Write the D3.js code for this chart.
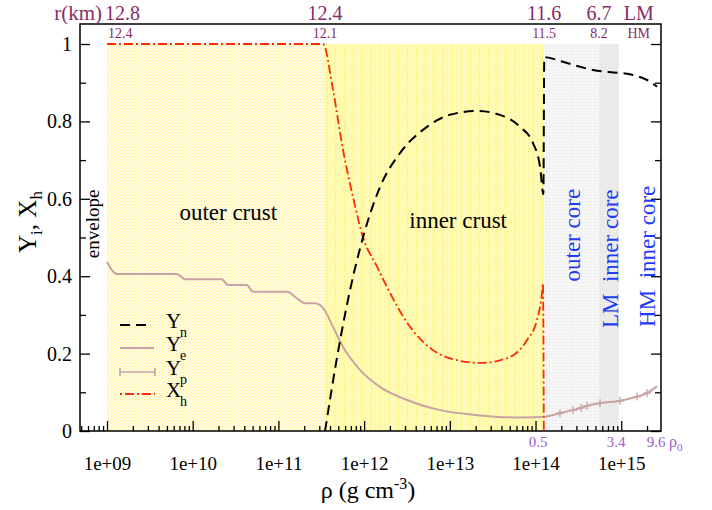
<!DOCTYPE html>
<html><head><meta charset="utf-8">
<script src="https://cdn.jsdelivr.net/npm/d3@7"></script>
<style>
body{margin:0;background:#fff}
svg{display:block}
svg text{font-family:"Liberation Serif","Times New Roman","DejaVu Serif",serif !important}
</style>
</head><body>
<svg id="c" width="712" height="510" font-family="Liberation Serif, serif"></svg>
<script>
// ---------------- data ----------------
// neutron fraction Y_n
const ynRho = [3.50e11,4.83e11,6.85e11,9.70e11,1.53e12,2.62e12,5.42e12,1.00e13,2.08e13,3.85e13,6.59e13,9.35e13,1.13e14,1.235e14,1.265e14,2.09e14,3.30e14,5.22e14,8.94e14,1.37e15,2.00e15,2.62e15];
const ynVal = [0,0.19,0.364,0.50,0.63,0.718,0.786,0.817,0.827,0.817,0.786,0.744,0.682,0.612,0.966,0.954,0.941,0.931,0.926,0.920,0.907,0.890];
// electron fraction Y_e (crust)
const yeRho = [1.00e9,1.30e9,6.50e9,8.13e9,2.18e10,2.58e10,4.27e10,5.05e10,1.28e11,1.56e11,2.04e11,2.67e11,3.31e11,4.34e11,5.68e11,8.95e11,1.53e12,3.17e12,7.69e12,2.08e13,6.08e13,1.22e14];
const yeVal = [0.437,0.406,0.406,0.392,0.392,0.377,0.377,0.360,0.360,0.347,0.330,0.330,0.318,0.269,0.217,0.158,0.114,0.080,0.054,0.041,0.035,0.036];
// proton fraction Y_p (core)
const ypRho = [1.27e14,1.93e14,2.74e14,3.40e14,3.99e14,5.66e14,9.69e14,1.53e15,2.00e15,2.62e15];
const ypVal = [0.036,0.046,0.054,0.060,0.065,0.072,0.078,0.089,0.098,0.116];
// heavy-cluster fraction X_h
const xhRho = [1.00e9,3.31e11,4.34e11,5.68e11,7.41e11,9.70e11,1.42e12,2.00e12,3.44e12,6.37e12,1.21e13,2.25e13,4.65e13,7.96e13,1.04e14,1.19e14,1.22e14,1.245e14,1.25e14];
const xhVal = [1,1,0.881,0.726,0.605,0.501,0.424,0.357,0.269,0.209,0.183,0.176,0.188,0.235,0.287,0.357,0.382,0.10,0];

// regions (density boundaries)
const regionNames = ["outer crust","inner crust","outer core","LM inner core"];
const regionFrom  = [1.0e9, 3.5e11, 1.26e14, 5.5e14];
const regionTo    = [3.5e11, 1.26e14, 5.5e14, 9.4e14];

// top radius labels
const rLabelRho = [1.0e9, 3.5e11, 1.26e14, 5.5e14, 1.6e15];
const rLM = ["12.8","12.4","11.6","6.7","LM"];
const rHM = ["12.4","12.1","11.5","8.2","HM"];

// density in units of rho0
const rho0Labels = ["0.5","3.4","9.6"];
const rho0Pos = [1.07e14, 8.69e14, 2.55e15];

// axis ticks
const xMajor = [1e9,1e10,1e11,1e12,1e13,1e14,1e15];
const yMajor = [0,0.2,0.4,0.6,0.8,1];
const yMinor = [0.1,0.3,0.5,0.7,0.9];

// ---------------- layout ----------------
const L=80, R=661, T=24, B=431;
const svg = d3.select("#c");
const x = d3.scaleLog().domain([Math.pow(10,8.685), Math.pow(10,15.464)]).range([L,R]);
const y = d3.scaleLinear().domain([0,1.0517]).range([B,T]);

const defs = svg.append("defs");
const p1 = defs.append("pattern").attr("id","pOC").attr("width",3).attr("height",3).attr("patternUnits","userSpaceOnUse");
p1.append("rect").attr("width",3).attr("height",3).attr("fill","#fffce2");
p1.append("rect").attr("width",1).attr("height",1).attr("fill","#fff27a");
p1.append("rect").attr("x",1.5).attr("y",1.5).attr("width",1).attr("height",1).attr("fill","#fff6a8");
const p2 = defs.append("pattern").attr("id","pIC").attr("width",9).attr("height",3).attr("patternUnits","userSpaceOnUse");
p2.append("rect").attr("width",9).attr("height",3).attr("fill","#fffbbc");
p2.append("rect").attr("width",4).attr("height",3).attr("fill","#fffaa4");
p2.append("rect").attr("x",6).attr("y",1).attr("width",1).attr("height",1).attr("fill","#fff27a");
p2.append("rect").attr("x",2).attr("y",0).attr("width",1).attr("height",1).attr("fill","#fff27a");
const p3 = defs.append("pattern").attr("id","pCO").attr("width",3).attr("height",3).attr("patternUnits","userSpaceOnUse");
p3.append("rect").attr("width",3).attr("height",3).attr("fill","#f6f6f6");
p3.append("rect").attr("width",1).attr("height",1).attr("fill","#e4e4e4");
const p4 = defs.append("pattern").attr("id","pLM").attr("width",2).attr("height",2).attr("patternUnits","userSpaceOnUse");
p4.append("rect").attr("width",2).attr("height",2).attr("fill","#ededed");
p4.append("rect").attr("width",1).attr("height",1).attr("fill","#e2e2e2");
const fills = ["url(#pOC)","url(#pIC)","url(#pCO)","url(#pLM)"];

defs.append("clipPath").attr("id","clip").append("rect").attr("x",L).attr("y",T).attr("width",R-L).attr("height",B-T);

// regions
svg.append("g").selectAll("rect").data(regionNames).join("rect")
  .attr("x",(d,i)=>x(regionFrom[i])).attr("width",(d,i)=>x(regionTo[i])-x(regionFrom[i]))
  .attr("y",y(1)).attr("height",y(0)-y(1)).attr("fill",(d,i)=>fills[i]);

// axes ticks
const minorX = [];
for (let k=8;k<=15;k++) for (let m=2;m<=9;m++){const v=m*Math.pow(10,k); if(v>x.domain()[0]&&v<x.domain()[1]) minorX.push(v);}
function styleAxis(g){g.attr("font-family",null); g.select(".domain").remove(); g.selectAll("line").attr("stroke","#000").attr("stroke-width",1.3);}
svg.append("g").attr("transform",`translate(0,${B})`).call(d3.axisBottom(x).tickValues(minorX).tickSize(-5).tickFormat("")).call(styleAxis);
const gx = svg.append("g").attr("transform",`translate(0,${B})`)
  .call(d3.axisBottom(x).tickValues(xMajor).tickSize(-10).tickPadding(26)
  .tickFormat(d=>"1e+"+String(Math.round(Math.log10(d))).padStart(2,"0"))).call(styleAxis);
gx.selectAll("text").attr("font-size",19).attr("fill","#000");

const gy = svg.append("g").attr("transform",`translate(${L},0)`)
  .call(d3.axisLeft(y).tickValues(yMajor).tickSize(-10).tickPadding(8).tickFormat(d3.format("~g"))).call(styleAxis);
gy.selectAll("text").attr("font-size",20).attr("fill","#000");
svg.append("g").attr("transform",`translate(${L},0)`).call(d3.axisLeft(y).tickValues(yMinor).tickSize(-6).tickFormat("")).call(styleAxis);
svg.append("g").attr("transform",`translate(${R},0)`).call(d3.axisRight(y).tickValues(yMajor).tickSize(-10).tickFormat("")).call(styleAxis);
svg.append("g").attr("transform",`translate(${R},0)`).call(d3.axisRight(y).tickValues(yMinor).tickSize(-6).tickFormat("")).call(styleAxis);

// curves
const line = (rs,vs,c)=>d3.line().curve(c||d3.curveMonotoneX).x((d,i)=>x(rs[i])).y((d,i)=>y(vs[i]))(vs);
const plot = svg.append("g").attr("clip-path","url(#clip)");
plot.append("path").attr("d",line(yeRho,yeVal,d3.curveMonotoneX)).attr("fill","none").attr("stroke","#c9a2a2").attr("stroke-width",2);
plot.append("path").attr("d",line(ypRho,ypVal)).attr("fill","none").attr("stroke","#c9a2a2").attr("stroke-width",2);
plot.append("g").selectAll("path").data(ypVal.slice(1,-1)).join("path")
  .attr("d",(d,i)=>{const px=x(ypRho[i+1]),py=y(d);return `M${px-4},${py}H${px+4}M${px},${py-4}V${py+4}`;})
  .attr("stroke","#c9a2a2").attr("stroke-width",1.3);
plot.append("path").attr("d",line(xhRho,xhVal)).attr("fill","none").attr("stroke","#ff2a0a").attr("stroke-width",1.8).attr("stroke-dasharray","9,3,2,3");
plot.append("path").attr("d",line(ynRho,ynVal)).attr("fill","none").attr("stroke","#000").attr("stroke-width",2).attr("stroke-dasharray","10,6");

// frame
svg.append("rect").attr("x",L).attr("y",T).attr("width",R-L).attr("height",B-T).attr("fill","none").attr("stroke","#000").attr("stroke-width",1.5);

// region labels
svg.append("text").attr("x",x(2.6e10)).attr("y",y(0.545)).attr("text-anchor","middle").attr("font-size",23).text("outer crust");
svg.append("text").attr("x",x(1.25e13)).attr("y",y(0.525)).attr("text-anchor","middle").attr("font-size",23).text("inner crust");
svg.append("text").attr("transform",`translate(99,${y(0.535)}) rotate(-90)`).attr("text-anchor","middle").attr("font-size",19).text("envelope");
const blue="#1e3cf5";
svg.append("text").attr("transform",`translate(580,${y(0.506)}) rotate(-90)`).attr("text-anchor","middle").attr("font-size",23).attr("fill",blue).text("outer core");
svg.append("text").attr("transform",`translate(618,${y(0.266)}) rotate(-90)`).attr("text-anchor","start").attr("font-size",23).attr("fill",blue).attr("xml:space","preserve").text("LM  inner core");
svg.append("text").attr("transform",`translate(655,${y(0.269)}) rotate(-90)`).attr("text-anchor","start").attr("font-size",23).attr("fill",blue).attr("xml:space","preserve").text("HM  inner core");

// top radius labels
const plum="#852c68";
svg.append("text").attr("x",102).attr("y",20).attr("text-anchor","end").attr("font-size",21).attr("fill",plum).text("r(km)");
svg.append("g").selectAll("text").data(rLM).join("text")
  .attr("x",(d,i)=>i===0?x(rLabelRho[i])-2:x(rLabelRho[i])).attr("y",20)
  .attr("text-anchor",(d,i)=>i===0?"start":"middle").attr("font-size",20).attr("fill",plum).text(d=>d);
svg.append("g").selectAll("text").data(rHM).join("text")
  .attr("x",(d,i)=>i===0?x(rLabelRho[i])+1:x(rLabelRho[i])).attr("y",38)
  .attr("text-anchor",(d,i)=>i===0?"start":"middle").attr("font-size",14).attr("fill",plum).text(d=>d);

// rho0 labels
const purple="#9a5fd2";
svg.append("g").selectAll("text").data(rho0Labels).join("text")
  .attr("x",(d,i)=>x(rho0Pos[i])).attr("y",447).attr("text-anchor","middle").attr("font-size",15).attr("fill",purple).text(d=>d);
const r0 = svg.append("text").attr("x",669).attr("y",447).attr("font-size",16).attr("fill",purple);
r0.append("tspan").text("ρ");
r0.append("tspan").attr("font-size",11).attr("dy",4).text("0");

// axis titles
const xt = svg.append("text").attr("x",368).attr("y",498).attr("text-anchor","middle").attr("font-size",24);
xt.append("tspan").text("ρ (g cm");
xt.append("tspan").attr("font-size",16).attr("dy",-9).text("-3");
xt.append("tspan").attr("dy",9).text(")");
const yt = svg.append("text").attr("transform",`translate(36,${y(0.54)}) rotate(-90)`).attr("text-anchor","middle").attr("font-size",25);
yt.append("tspan").text("Y");
yt.append("tspan").attr("font-size",17).attr("dy",6).text("i");
yt.append("tspan").attr("dy",-6).text(", X");
yt.append("tspan").attr("font-size",17).attr("dy",6).text("h");

// legend
const legNames = ["Y","Y","Y","X"];
const legSubs = ["n","e","p","h"];
const legY = [321,344,368,390];
const lg = svg.append("g");
lg.selectAll("text.l").data(legNames).join("text").attr("class","l")
  .attr("x",166).attr("y",(d,i)=>legY[i]+7).attr("font-size",21).text(d=>d);
lg.selectAll("text.s").data(legSubs).join("text").attr("class","s")
  .attr("x",180).attr("y",(d,i)=>legY[i]+16).attr("font-size",14).text(d=>d);
lg.append("line").attr("x1",120).attr("x2",152).attr("y1",legY[0]+4).attr("y2",legY[0]+4).attr("stroke","#000").attr("stroke-width",2).attr("stroke-dasharray","10,6");
lg.append("line").attr("x1",120).attr("x2",154).attr("y1",legY[1]+4).attr("y2",legY[1]+4).attr("stroke","#c9a2a2").attr("stroke-width",2);
lg.append("path").attr("d",`M120,${legY[2]+4}H155M120,${legY[2]}V${legY[2]+8}M155,${legY[2]}V${legY[2]+8}`).attr("stroke","#c9a2a2").attr("stroke-width",1.6).attr("fill","none");
lg.append("line").attr("x1",120).attr("x2",155).attr("y1",legY[3]+4).attr("y2",legY[3]+4).attr("stroke","#ff2a0a").attr("stroke-width",1.8).attr("stroke-dasharray","2,3,9,3");
</script>
</body></html>
